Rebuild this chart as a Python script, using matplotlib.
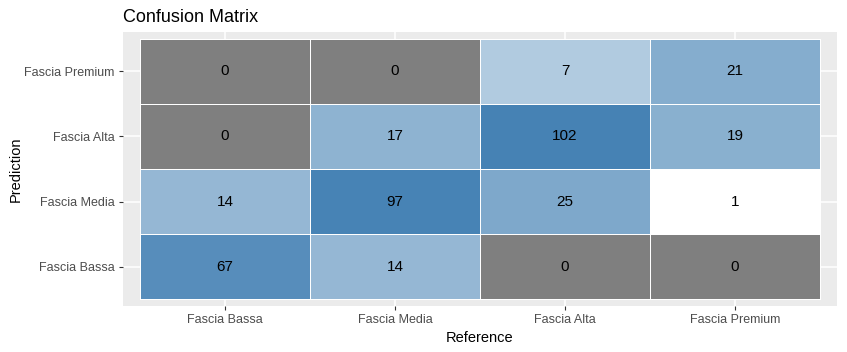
import numpy as np
import matplotlib
matplotlib.use("Agg")
import matplotlib.pyplot as plt
from matplotlib.colors import LinearSegmentedColormap, LogNorm

# confusion matrix, reference on x, prediction on y (rows bottom -> top)
reference = ["Fascia Bassa", "Fascia Media", "Fascia Alta", "Fascia Premium"]
prediction = ["Fascia Bassa", "Fascia Media", "Fascia Alta", "Fascia Premium"]
counts = [
    [67, 14, 0, 0],     # Fascia Bassa
    [14, 97, 25, 1],    # Fascia Media
    [0, 17, 102, 19],   # Fascia Alta
    [0, 0, 7, 21],      # Fascia Premium
]

plt.rcParams["font.family"] = ["Liberation Sans", "DejaVu Sans"]

fig = plt.figure(figsize=(8.47, 3.52), dpi=100)
ax = fig.add_axes([123 / 847, 1 - 306 / 352, 714 / 847, 274 / 352])
ax.set_facecolor("#EBEBEB")

z = np.ma.masked_equal(np.array(counts, dtype=float), 0)
cmap = LinearSegmentedColormap.from_list("wb", ["white", "steelblue"])
cmap.set_bad("#7F7F7F")

n = len(reference)
edges = np.arange(n + 1) + 0.5
ax.pcolormesh(edges, edges, z, cmap=cmap, norm=LogNorm(vmin=1, vmax=np.max(counts)),
              edgecolors="white", linewidth=0.7, zorder=2)

for i in range(n):
    for j in range(n):
        ax.text(j + 1, i + 1, str(counts[i][j]), ha="center", va="center",
                fontsize=11, color="black", zorder=3)

ax.set_xlim(0.4, n + 0.6)
ax.set_ylim(0.4, n + 0.6)
ax.set_xticks(np.arange(1, n + 1))
ax.set_xticklabels(reference)
ax.set_yticks(np.arange(1, n + 1))
ax.set_yticklabels(prediction)
ax.grid(True, color="white", linewidth=1.1, zorder=1)
ax.set_axisbelow(True)
for s in ax.spines.values():
    s.set_visible(False)
ax.tick_params(axis="both", colors="#333333", length=3, width=0.8,
               labelsize=9, labelcolor="#4D4D4D", pad=3)

ax.set_xlabel("Reference", fontsize=10.5, labelpad=3)
ax.set_ylabel("Prediction", fontsize=10.5, labelpad=1)
ax.set_title("Confusion Matrix", fontsize=13, loc="left", pad=7)

fig.savefig("out.png", dpi=100)
